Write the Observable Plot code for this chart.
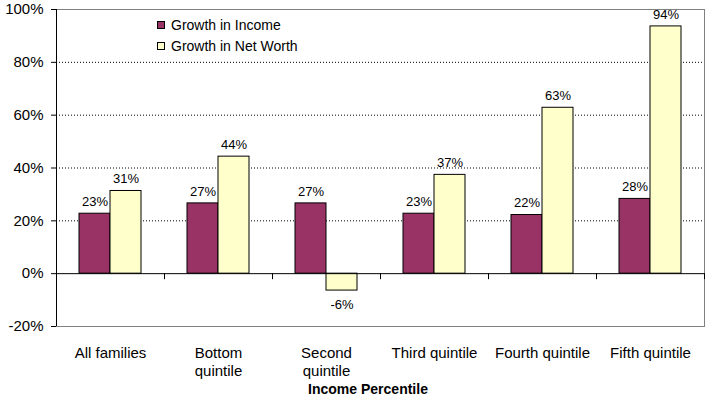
<!DOCTYPE html>
<html><head><meta charset="utf-8">
<script src="https://cdn.jsdelivr.net/npm/d3@7"></script>
<script src="https://cdn.jsdelivr.net/npm/@observablehq/plot@0.6"></script>
<style>
body{margin:0;background:#fff;font-family:"Liberation Sans",Arial,sans-serif;}
#wrap{position:relative;width:706px;height:397px;}
.legend{position:absolute;left:157px;top:14px;font-size:14px;color:#000;line-height:1;}
.legend .item{display:flex;align-items:center;height:21.5px;}
.sw{width:6px;height:6px;border:1px solid #000;margin-right:6px;}
</style></head><body><div id="wrap"></div>
<script>
const categories = ["All families","Bottom\nquintile","Second\nquintile","Third quintile","Fourth quintile","Fifth quintile"];
const seriesNames = ["Growth in Income","Growth in Net Worth"];
const incomeGrowth = [22.7,26.6,26.6,22.7,22.2,28.3];
const netWorthGrowth = [31.3,44.3,-6.4,37.4,62.8,93.6];
const yTicks = [-20,0,20,40,60,80,100];
const seriesColors = ["#993366","#FFFFCC"];
const xTitle = "Income Percentile";

const rows = categories.map((c,i)=>({cat:c, income:incomeGrowth[i], net:netWorthGrowth[i]}));
const W = 706, H = 397, ML = 56, MR = 2, MT = 9, MB = 71;
const half = (W-ML-MR)/categories.length/2;
const tickLen = 6 * (yTicks[yTicks.length-1] - yTicks[0]) / (H - MT - MB);
const fmt = v => `${Math.round(v)}%`;

const chart = Plot.plot({
  width: W, height: H,
  marginLeft: ML, marginRight: MR, marginTop: MT, marginBottom: MB,
  style: {fontFamily: '"Liberation Sans", Arial, sans-serif', fontSize: "15px", color: "#000", background: "#fff"},
  x: {domain: categories, padding: 0, round: false, label: null},
  y: {domain: [yTicks[0], yTicks[yTicks.length-1]], label: null},
  marks: [
    Plot.frame({stroke: "#808080"}),
    Plot.ruleY(yTicks.filter(t => t > 0 && t < 100), {stroke: "#000", strokeDasharray: "1,2"}),
    Plot.barY(rows, {x: "cat", y: "income", fill: seriesColors[0], stroke: "#000", insetLeft: 23, insetRight: 54}),
    Plot.barY(rows, {x: "cat", y: "net", fill: seriesColors[1], stroke: "#000", insetLeft: 54, insetRight: 23}),
    Plot.ruleY([0], {stroke: "#000"}),
    Plot.ruleX([categories[0]], {x: d => d, dx: -half, stroke: "#000"}),
    Plot.ruleX(categories, {x: d => d, dx: half, y1: 0, y2: -tickLen, stroke: "#000"}),
    Plot.text(rows.filter(d => d.income >= 0), {x: "cat", y: "income", text: d => fmt(d.income), dx: -15.5, dy: -12, fontSize: 13}),
    Plot.text(rows.filter(d => d.net >= 0), {x: "cat", y: "net", text: d => fmt(d.net), dx: 15.5, dy: -12, fontSize: 13}),
    Plot.text(rows.filter(d => d.net < 0), {x: "cat", y: "net", text: d => fmt(d.net), dx: 15.5, dy: 14, fontSize: 13}),
    Plot.axisY({ticks: yTicks, tickFormat: d => `${d}%`, tickSize: 5, tickPadding: 8, label: null}),
    Plot.axisX({tickSize: 0, tickPadding: 18, label: null, lineHeight: 1.22}),
    Plot.text([xTitle], {frameAnchor: "bottom", lineAnchor: "middle", dx: -12.5, dy: 63, fontWeight: "bold", fontSize: 14})
  ]
});
const wrap = document.getElementById("wrap");
wrap.appendChild(chart);
const lg = document.createElement("div");
lg.className = "legend";
seriesNames.forEach((n,i) => {
  const it = document.createElement("div"); it.className = "item";
  const sw = document.createElement("span"); sw.className = "sw"; sw.style.background = seriesColors[i];
  const tx = document.createElement("span"); tx.textContent = n;
  it.appendChild(sw); it.appendChild(tx); lg.appendChild(it);
});
wrap.appendChild(lg);
</script></body></html>
